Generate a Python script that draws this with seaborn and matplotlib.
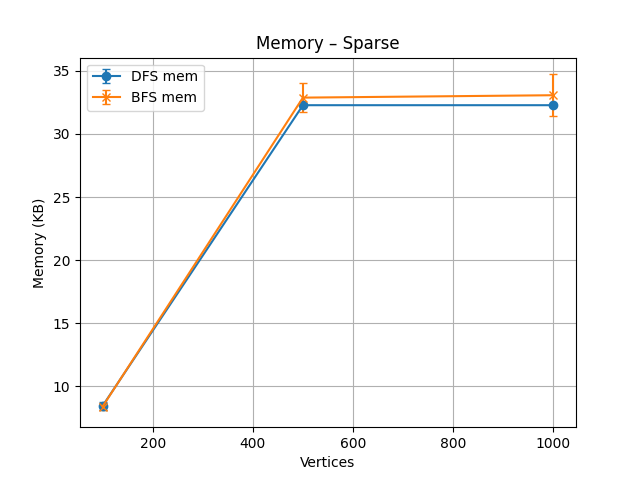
import matplotlib
matplotlib.use("Agg")
import matplotlib.pyplot as plt
import seaborn as sns

vertices = [100, 500, 1000]
dfs_mem = [8.45, 32.28, 32.28]
dfs_err = [0.3, 0.05, 0.05]
bfs_mem = [8.4, 32.88, 33.07]
bfs_err = [0.3, 1.17, 1.65]

colors = sns.color_palette("tab10", 2)

fig, ax = plt.subplots(figsize=(6.4, 4.8), dpi=100)
ax.errorbar(vertices, dfs_mem, yerr=dfs_err, marker="o", capsize=3,
            color=colors[0], label="DFS mem")
ax.errorbar(vertices, bfs_mem, yerr=bfs_err, marker="x", capsize=3,
            color=colors[1], label="BFS mem")
ax.set_title("Memory – Sparse")
ax.set_xlabel("Vertices")
ax.set_ylabel("Memory (KB)")
ax.grid(True)
ax.legend(loc="upper left")
fig.savefig("out.png")
